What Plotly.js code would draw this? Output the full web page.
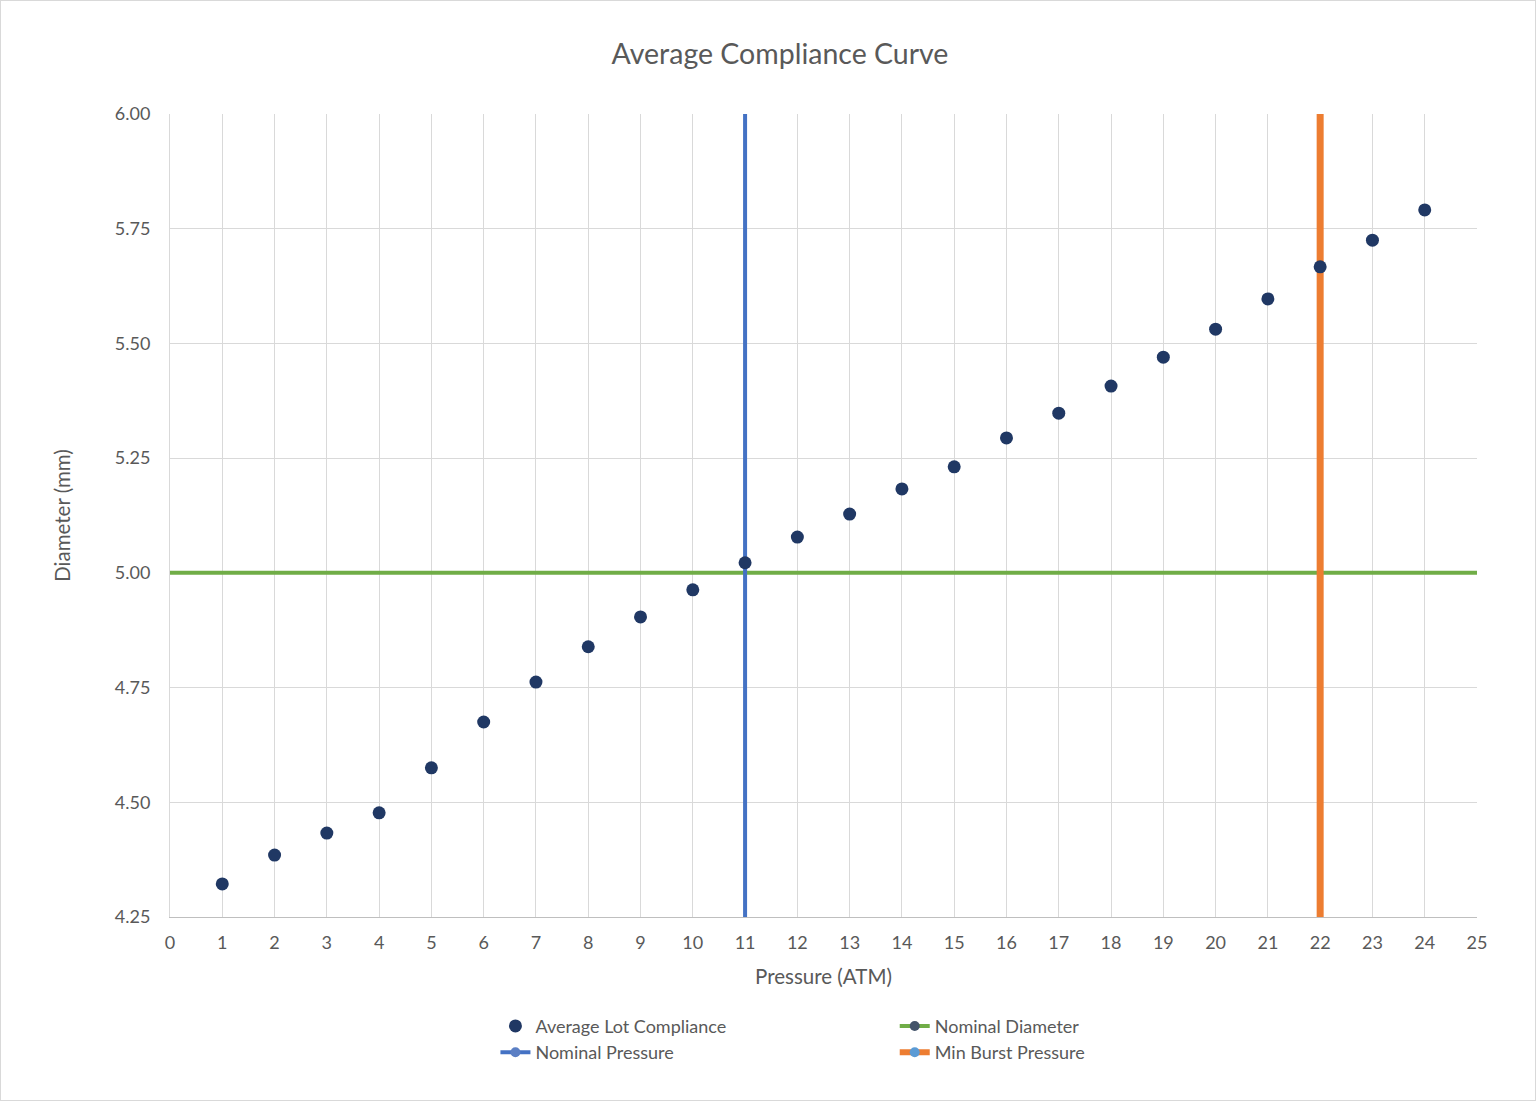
<!DOCTYPE html>
<html>
<head>
<meta charset="utf-8">
<script src="https://cdn.plot.ly/plotly-3.0.1.min.js"></script>
<style>
html,body{margin:0;padding:0;background:#fff;}
#wrap{width:1536px;height:1101px;box-sizing:border-box;border:1px solid #d9d9d9;}
</style>
</head>
<body>
<div id="wrap"><div id="chart"></div></div>
<script>
const pressure = [1,2,3,4,5,6,7,8,9,10,11,12,13,14,15,16,17,18,19,20,21,22,23,24];
const diameter = [4.322,4.385,4.433,4.477,4.575,4.675,4.762,4.839,4.904,4.963,5.022,5.078,5.128,5.183,5.231,5.294,5.348,5.407,5.470,5.531,5.597,5.667,5.725,5.791];
const nominalDiameterX = [0,25];
const nominalDiameterY = [5.00,5.00];
const nominalPressureX = [11,11];
const nominalPressureY = [4.25,6.00];
const burstPressureX = [22,22];
const burstPressureY = [4.25,6.00];
const yTicks = [4.25,4.50,4.75,5.00,5.25,5.50,5.75,6.00];

const font = 'Lato, "Open Sans", sans-serif';
const grey = '#595959';

const traces = [
  {x: nominalDiameterX, y: nominalDiameterY, mode:'lines', line:{color:'#70AD47', width:4}, showlegend:false, hoverinfo:'skip'},
  {x: nominalPressureX, y: nominalPressureY, mode:'lines', line:{color:'#4472C4', width:4}, showlegend:false, hoverinfo:'skip'},
  {x: burstPressureX, y: burstPressureY, mode:'lines', line:{color:'#ED7D31', width:7}, showlegend:false, hoverinfo:'skip'},
  {x: pressure, y: diameter, mode:'markers', name:'Average Lot Compliance', marker:{color:'#203864', size:13}, legend:'legend'},
  {x:[null], y:[null], mode:'lines+markers', name:'Nominal Pressure', line:{color:'#4472C4', width:4}, marker:{color:'#5B7FC4', size:10}, legend:'legend'},
  {x:[null], y:[null], mode:'lines+markers', name:'Nominal Diameter', line:{color:'#70AD47', width:4}, marker:{color:'#44546A', size:10}, legend:'legend2'},
  {x:[null], y:[null], mode:'lines+markers', name:'Min Burst Pressure', line:{color:'#ED7D31', width:6}, marker:{color:'#5B9BD5', size:10}, legend:'legend2'}
];

const layout = {
  width:1534, height:1099,
  margin:{l:169, r:58, t:113, b:183},
  paper_bgcolor:'#fff', plot_bgcolor:'#fff',
  font:{family:font, color:grey, size:18},
  title:{text:'Average Compliance Curve', font:{family:font, size:28.5, color:grey}, xref:'container', x:779/1534, xanchor:'center', y:1-53/1099, yanchor:'middle'},
  xaxis:{range:[0,25], tickmode:'array', tickvals:[...Array(26).keys()], ticktext:[...Array(26).keys()].map(String),
    showgrid:true, gridcolor:'#d9d9d9', gridwidth:1, zeroline:false,
    showline:true, linecolor:'#bfbfbf', linewidth:1, ticks:'outside', ticklen:9, tickcolor:'rgba(0,0,0,0)', tickfont:{size:18, color:grey},
    title:{text:'Pressure (ATM)', font:{size:20.5, color:grey}, standoff:18}},
  yaxis:{range:[4.25,6.00], tickmode:'array', tickvals:yTicks, ticktext:yTicks.map(v=>v.toFixed(2)),
    showgrid:true, gridcolor:'#d9d9d9', gridwidth:1, zeroline:false,
    showline:true, linecolor:'#d9d9d9', linewidth:1, ticks:'outside', ticklen:15, tickcolor:'rgba(0,0,0,0)', tickfont:{size:18, color:grey},
    title:{text:'Diameter (mm)', font:{size:20.5, color:grey}, standoff:38}},
  legend:{x:0.249, xanchor:'left', y:-0.113, yanchor:'top', orientation:'v', font:{size:18, color:grey}, bgcolor:'rgba(0,0,0,0)', tracegroupgap:0, itemwidth:30},
  legend2:{x:0.5545, xanchor:'left', y:-0.113, yanchor:'top', orientation:'v', font:{size:18, color:grey}, bgcolor:'rgba(0,0,0,0)', tracegroupgap:0, itemwidth:30},
  showlegend:true
};

Plotly.newPlot('chart', traces, layout, {displayModeBar:false, staticPlot:true});
</script>
</body>
</html>
